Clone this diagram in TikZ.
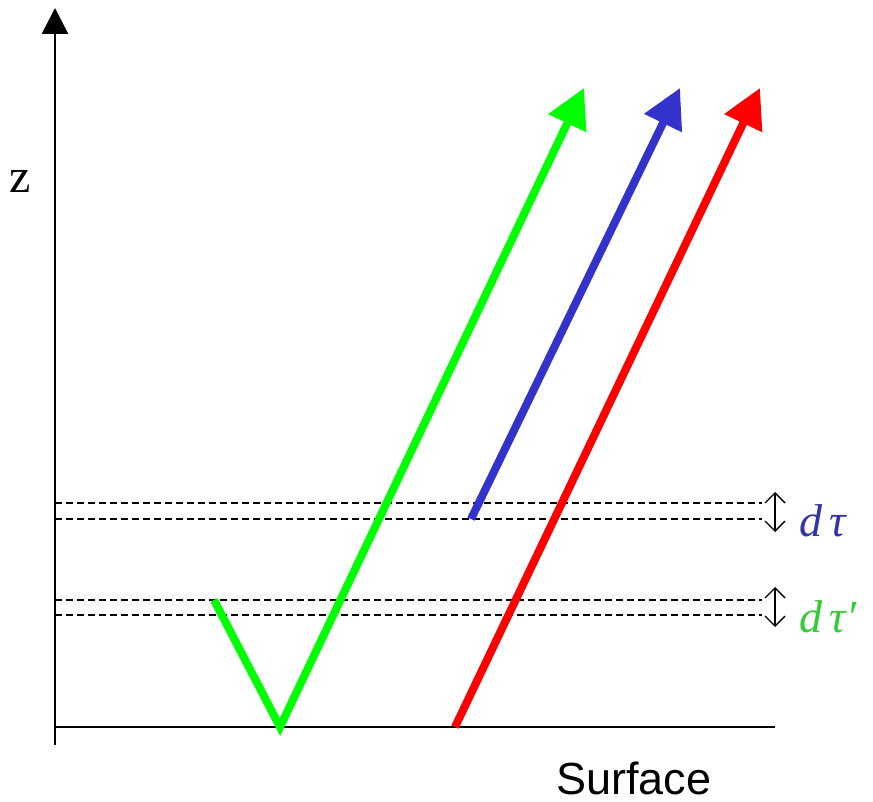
\documentclass[tikz,border=0pt]{standalone}
\usepackage{fontspec}
\setmainfont{Liberation Serif}
\newfontfamily\surffont{Liberation Sans}
\usetikzlibrary{arrows.meta}
\definecolor{ggreen}{RGB}{0,255,0}
\definecolor{gblue}{RGB}{51,51,204}
\definecolor{gred}{RGB}{255,0,0}
\definecolor{tblue}{RGB}{51,51,170}
\definecolor{tgreen}{RGB}{51,204,51}
\begin{document}
\begin{tikzpicture}[x=1pt,y=-1pt,
  axis/.style={line width=2.5pt,black},
  ray/.style={line width=8pt,-{Triangle[length=39pt,width=40pt]}},
  layer/.style={line width=1.5pt,dash pattern=on 7pt off 4pt},
  marker/.style={line width=1.4pt,{Straight Barb[length=10pt,width=20pt]}-{Straight Barb[length=10pt,width=20pt]}},
  lbl/.style={anchor=base west,inner sep=0,font=\fontsize{46}{46}\selectfont\itshape}]
\useasboundingbox (0,0) rectangle (873,802);
% axes
\coordinate (ob) at (55,745);
\coordinate (ot) at (55,8);
\coordinate (hl) at (55,727);
\coordinate (hr) at (775,727);
\draw[axis,-{Triangle[length=26pt,width=26pt]}] (ob) -- (ot);
\draw[axis] (hl) -- (hr);
\node (zl) at (20,181) {\fontsize{48}{48}\selectfont z};
% dashed layers
\foreach \n/\y in {a/503,b/519,c/600,d/615}{
  \coordinate (\n l) at (55,\y);
  \coordinate (\n r) at (762,\y);
  \draw[layer] (\n l) -- (\n r);
}
% double arrows
\coordinate (m1t) at (775,492);
\coordinate (m1b) at (775,532);
\coordinate (m2t) at (775,587);
\coordinate (m2b) at (775,627);
\draw[marker] (m1t) -- (m1b);
\draw[marker] (m2t) -- (m2b);
\node[lbl,text=tblue] (dt) at (799,536) {d\,τ};
\node[lbl,text=tgreen] (dtp) at (799,632) {d\,τ′};
% rays
\coordinate (g0) at (214,600);
\coordinate (g1) at (280,727);
\coordinate (g2) at (584,88);
\draw[ray,ggreen] (g0) -- (g1) -- (g2);
\coordinate (b0) at (471,519);
\coordinate (b1) at (680,88);
\draw[ray,gblue] (b0) -- (b1);
\coordinate (r0) at (455,727);
\coordinate (r1) at (760,88);
\draw[ray,gred] (r0) -- (r1);
% label
\node[anchor=base west,inner sep=0] (surf) at (556,794) {\surffont\fontsize{45}{45}\selectfont Surface};
\end{tikzpicture}
\end{document}
